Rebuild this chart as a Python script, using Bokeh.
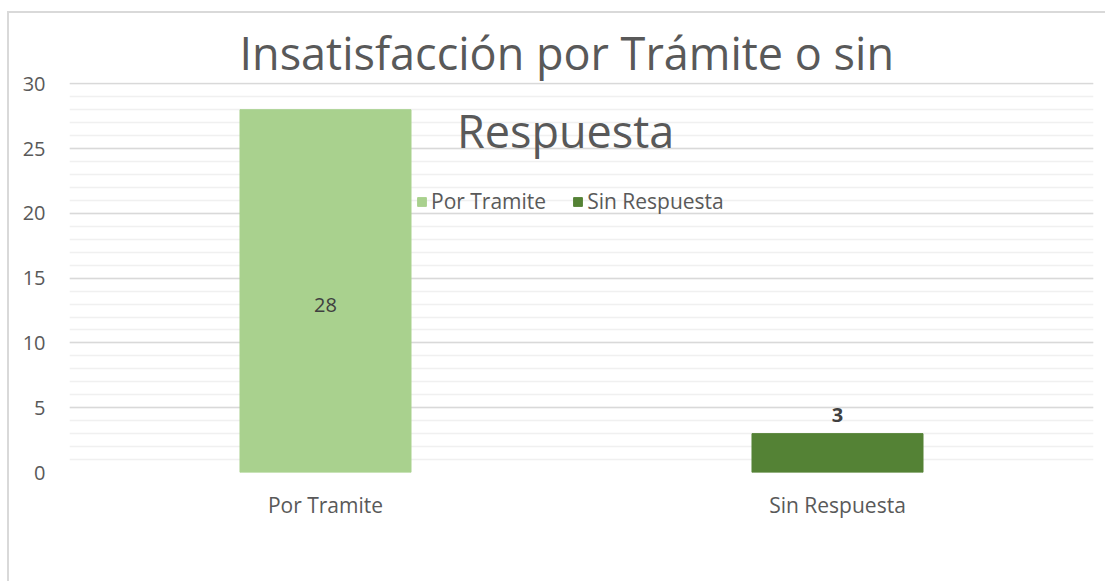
from bokeh.plotting import figure
from bokeh.models import (FactorRange, Range1d, SingleIntervalTicker, Label, Legend,
                          LegendItem, ColumnDataSource)
from bokeh.core.properties import value
from bokeh.embed import file_html
from bokeh.resources import INLINE

categories = ["Por Tramite", "Sin Respuesta"]
values = [28, 3]
colors = ["#A9D18E", "#548235"]
title_lines = ["Insatisfacción por Trámite o sin", "Respuesta"]

FONT = "Open Sans"
GREY = "#595959"

# canvas is offset by (9, 13) in the page because of the chart border
p = figure(width=1098, height=570, x_range=FactorRange(*categories), y_range=Range1d(0, 30.1),
           output_backend="svg", toolbar_location=None,
           min_border_left=60, min_border_right=14, min_border_top=69, min_border_bottom=111,
           styles={"margin-left": "7px", "margin-top": "11px",
                   "border-left": "2px solid #D9D9D9", "border-top": "2px solid #D9D9D9"})
p.outline_line_color = None
p.background_fill_color = "white"
p.border_fill_color = "white"

src = ColumnDataSource(dict(cat=categories, val=values, col=colors))
r = p.vbar(x="cat", top="val", width=0.334, color="col", source=src)

# axes
p.yaxis.ticker = SingleIntervalTicker(interval=5, num_minor_ticks=5)
p.yaxis.axis_line_color = None
p.yaxis.major_tick_line_color = None
p.yaxis.minor_tick_line_color = None
p.yaxis.major_label_text_font = FONT
p.yaxis.major_label_text_font_size = "20px"
p.yaxis.major_label_text_color = GREY
p.yaxis.major_label_standoff = 18

p.xaxis.axis_line_color = None
p.xaxis.major_tick_line_color = None
p.xaxis.major_label_text_font = FONT
p.xaxis.major_label_text_font_size = "21px"
p.xaxis.major_label_text_color = GREY
p.xaxis.major_label_standoff = 12

p.xgrid.grid_line_color = None
p.ygrid.grid_line_color = "#D9D9D9"
p.ygrid.grid_line_width = 1.5
p.ygrid.minor_grid_line_color = "#F0F0F0"
p.ygrid.minor_grid_line_width = 1.5
p.ygrid.level = "underlay"

# data labels
p.text(x=[categories[0]], y=[values[0] / 2], text=[str(values[0])], text_align="center",
       text_baseline="middle", y_offset=14, text_font=value(FONT), text_font_size="20px",
       text_color="#404040")
p.text(x=[categories[1]], y=[values[1]], text=[str(values[1])], text_align="center",
       text_baseline="bottom", y_offset=-12, text_font=value(FONT), text_font_size="20px",
       text_font_style="bold", text_color="#404040")

# title (two lines)
p.title.text = title_lines[0]
p.title.align = "left"
p.title.offset = 170
p.title.text_font = FONT
p.title.text_font_size = "45px"
p.title.text_font_style = "normal"
p.title.text_color = GREY
p.title.standoff = 0
p.title.text_line_height = 1.4
p.add_layout(Label(x=0.969, y=26.4, text=title_lines[1], text_align="center", text_baseline="middle",
                   text_font=FONT, text_font_size="45px", text_color=GREY))

# legend
items = [LegendItem(label=categories[i], renderers=[r], index=i) for i in range(2)]
legend = Legend(items=items, orientation="horizontal", location=(347, 257),
                label_text_font=FONT, label_text_font_size="21px", label_text_color=GREY,
                glyph_width=11, glyph_height=11, label_standoff=4, spacing=26,
                background_fill_alpha=0, border_line_color=None, padding=0, margin=0)
p.add_layout(legend, "center")

open("out.html", "w").write(file_html(p, INLINE))
